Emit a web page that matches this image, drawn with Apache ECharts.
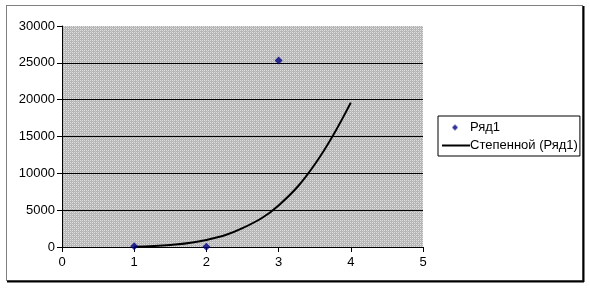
<!DOCTYPE html>
<html><head><meta charset="utf-8">
<script src="https://cdn.jsdelivr.net/npm/echarts@6/dist/echarts.min.js"></script>
<style>html,body{margin:0;padding:0;background:#fff}#c{width:590px;height:294px}</style>
</head><body><div id="c"></div>
<script>
// data
const seriesName = 'Ряд1';
const trendName = 'Степенной (Ряд1)';
const pointX = [1, 2, 3];
const pointY = [100, 50, 25300];
const trendX = [1, 1.5, 2, 2.5, 3, 3.5, 4];
const trendY = [45, 270, 950, 2550, 5650, 11200, 19600];
const xTicks = [0, 1, 2, 3, 4, 5];
const yTicks = [0, 5000, 10000, 15000, 20000, 25000, 30000];

// pattern for the plot background
const pc = document.createElement('canvas');
pc.width = 4; pc.height = 4;
const pctx = pc.getContext('2d');
pctx.fillStyle = '#b4b4b4'; pctx.fillRect(0,0,4,4);
pctx.fillStyle = '#e0e0e0';
pctx.fillRect(0,0,1,1); pctx.fillRect(2,0,1,1); pctx.fillRect(0,2,1,1); pctx.fillRect(2,2,1,1);
pctx.fillStyle = '#c8c8c8';
pctx.fillRect(1,1,1,1); pctx.fillRect(3,3,1,1);

// legend icons
function iconImg(draw){
  const c = document.createElement('canvas'); c.width = 28; c.height = 10;
  const x = c.getContext('2d'); draw(x); return 'image://' + c.toDataURL();
}
const diamondIcon = iconImg(x => {
  x.fillStyle = '#000080'; x.beginPath();
  x.moveTo(13,2); x.lineTo(16,5); x.lineTo(13,8); x.lineTo(10,5); x.closePath(); x.fill();
});
const lineIcon = iconImg(x => { x.fillStyle = '#000'; x.fillRect(0,4,28,2); });

const chart = echarts.init(document.getElementById('c'), null, {renderer:'canvas'});
const font = {fontFamily:'Liberation Sans, Arial, sans-serif', fontSize:13, color:'#000'};
chart.setOption({
  animation:false,
  backgroundColor:'#fff',
  grid:{left:62, right:167, top:26, bottom:47, show:true, backgroundColor:{image:pc, repeat:'repeat'}, borderWidth:0},
  xAxis:{type:'value', min:xTicks[0], max:xTicks[xTicks.length-1], interval:1,
    axisLine:{lineStyle:{color:'#000', width:1}}, axisTick:{show:true, length:5, lineStyle:{color:'#000'}},
    axisLabel:Object.assign({margin:9}, font), splitLine:{show:false}},
  yAxis:{type:'value', min:yTicks[0], max:yTicks[yTicks.length-1], interval:5000,
    axisLine:{show:true, lineStyle:{color:'#000', width:1}}, axisTick:{show:true, length:5, lineStyle:{color:'#000'}},
    axisLabel:Object.assign({margin:7, formatter:v=>String(v)}, font),
    splitLine:{show:true, lineStyle:{color:['#000','#000','#000','#000','#000','#000','rgba(0,0,0,0)'], width:1}}},
  legend:{orient:'vertical', left:438, top:116, itemGap:5, padding:[5,2,4,4],
    borderColor:'#000', borderWidth:1, backgroundColor:'#fff',
    itemWidth:28, itemHeight:10, textStyle:Object.assign({padding:[0,0,0,-5]}, font),
    data:[{name:seriesName, icon:diamondIcon}, {name:trendName, icon:lineIcon}]},
  series:[
    {name:seriesName, type:'scatter', symbol:'diamond', symbolSize:8, itemStyle:{color:'#000080'},
      data:pointX.map((x,i)=>[x, pointY[i]]), z:5},
    {name:trendName, type:'line', smooth:0.4, showSymbol:false, symbol:'none',
      lineStyle:{color:'#000', width:2}, itemStyle:{color:'#000'},
      data:trendX.map((x,i)=>[x, trendY[i]]), z:4}
  ],
  graphic:[
    {type:'rect', shape:{x:6.5, y:5.5, width:576, height:275}, style:{fill:null, stroke:'#000', lineWidth:1, lineDash:[1,1]}, silent:true},
    {type:'line', shape:{x1:583.5, y1:6, x2:583.5, y2:282}, style:{stroke:'#000', lineWidth:2}, silent:true},
    {type:'line', shape:{x1:7, y1:281.5, x2:584, y2:281.5}, style:{stroke:'#000', lineWidth:2}, silent:true}
  ]
});
</script></body></html>
